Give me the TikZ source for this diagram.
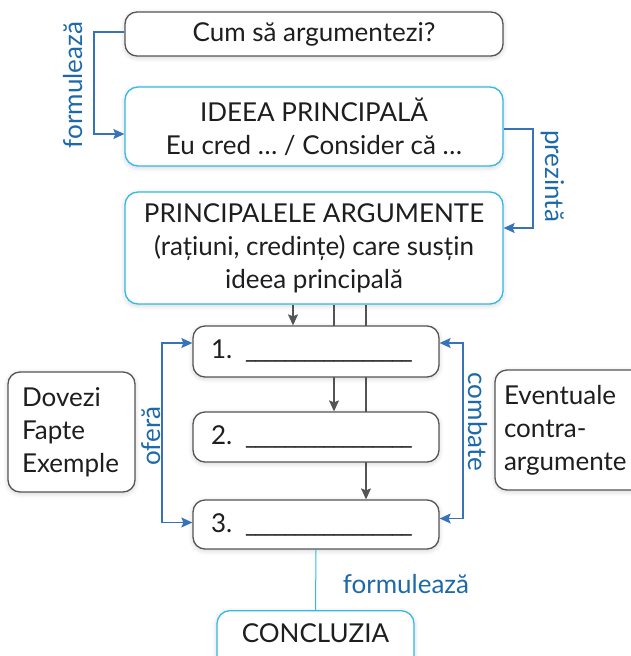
\documentclass[tikz,border=0pt]{standalone}
\usepackage{fontspec}
\setmainfont{Lato}
\usetikzlibrary{arrows.meta,backgrounds,calc,shadows.blur}
\definecolor{boxgray}{RGB}{85,85,85}
\definecolor{boxcyan}{RGB}{50,185,230}
\definecolor{lineblue}{RGB}{55,115,185}
\definecolor{textblue}{RGB}{30,105,170}
\definecolor{ink}{RGB}{30,30,30}
\newcommand\us{\_\kern-2.2pt}
\newcommand\blankrun{\us\us\us\us\us\us\us\us\us\us\us\us\us\us\us\us\_}
\tikzset{
  softshadow/.style={blur shadow={shadow xshift=0pt, shadow yshift=-1.5pt, shadow blur radius=5pt, shadow opacity=18, shadow blur steps=8}},
  graybox/.style={draw=boxgray, line width=1.3pt, rounded corners=12pt, fill=white, text=ink, align=center, inner sep=0pt, softshadow},
  cyanbox/.style={draw=boxcyan, line width=1.3pt, rounded corners=13pt, fill=white, text=ink, align=center, inner sep=0pt, softshadow},
  bluearrow/.style={draw=lineblue, line width=1.2pt, -{Stealth[length=11pt,width=10pt,inset=2pt]}},
  bluebiarrow/.style={draw=lineblue, line width=1.2pt, {Stealth[length=11pt,width=10pt,inset=2pt]}-{Stealth[length=11pt,width=10pt,inset=2pt]}},
  grayarrow/.style={draw=boxgray, line width=1.2pt, -{Stealth[length=11pt,width=10pt,inset=2pt]}},
  bluelabel/.style={text=textblue, inner sep=0pt, font=\fontsize{26}{30}\selectfont},
  numbox/.style={graybox, minimum width=246pt, align=left, text width=210pt},
}
\begin{document}
\begin{tikzpicture}[x=1pt,y=1pt,font=\fontsize{26}{33}\selectfont]
\useasboundingbox (0,0) rectangle (631,-656);
% main boxes
\node[graybox, minimum width=378pt, minimum height=44pt] (cum) at (314,-34) {Cum să argumentezi?};
\node[cyanbox, minimum width=378pt, minimum height=79pt] (idea) at (314,-126.5) {IDEEA PRINCIPALĂ\\Eu cred … / Consider că …};
\node[cyanbox, minimum width=378pt, minimum height=112pt] (princ) at (314,-248) {PRINCIPALELE ARGUMENTE\\(rațiuni, credințe) care susțin\\ideea principală};
\node[numbox, minimum height=51pt] (b1) at (316,-351.5) {1.\hspace{13pt}\blankrun};
\node[numbox, minimum height=50pt] (b2) at (316,-437) {2.\hspace{13pt}\blankrun};
\node[numbox, minimum height=49pt] (b3) at (316,-524.5) {3.\hspace{13pt}\blankrun};
\node[graybox, minimum width=127pt, minimum height=120pt, align=left, text width=99pt] (dov) at (71.5,-432) {Dovezi\\Fapte\\Exemple};
\node[graybox, minimum width=150pt, minimum height=120pt, align=left, text width=132pt] (evt) at (570,-430) {Eventuale\\contra-\\argumente};
\node[cyanbox, anchor=north, minimum width=197pt, inner ysep=15pt, text height=17pt, text depth=35pt] (concl) at (315.5,-610) {CONCLUZIA};
% gray flow lines behind boxes
\begin{scope}[on background layer]
\draw[grayarrow] ([xshift=-21pt]princ.south) -- ([xshift=-21pt]princ.south |- b1.north);
\draw[grayarrow] ([xshift=20pt]princ.south) -- ([xshift=20pt]princ.south |- b2.north);
\draw[grayarrow] ([xshift=52pt]princ.south) -- ([xshift=52pt]princ.south |- b3.north);
\end{scope}
% blue connectors
\coordinate (fl) at (94,-80);
\draw[bluearrow] ([yshift=2pt]cum.west) -| (fl) |- ([yshift=-7.5pt]idea.west);
\coordinate (pr) at (533,-180);
\draw[bluearrow] ([yshift=-2.5pt]idea.east) -| (pr) |- ([yshift=20pt]princ.east);
\coordinate (of) at (162,-430);
\draw[bluebiarrow] ([yshift=8.5pt]b1.west) -| (of) |- ([yshift=2pt]b3.west);
\coordinate (cb) at (463,-430);
\draw[bluebiarrow] ([yshift=8.5pt]b1.east) -| (cb) |- ([yshift=6pt]b3.east);
\draw[draw=boxcyan, line width=1pt] (b3.south) -- (concl.north);
% labels
\node[bluelabel, rotate=90] (lf) at (73,-85) {formulează};
\node[bluelabel, rotate=-90] (lp) at (553,-176) {prezintă};
\node[bluelabel, rotate=90] (lo) at (151,-436) {oferă};
\node[bluelabel, rotate=-90] (lc) at (478,-422) {combate};
\node[bluelabel] (lb) at (406,-584) {formulează};
\end{tikzpicture}
\end{document}
